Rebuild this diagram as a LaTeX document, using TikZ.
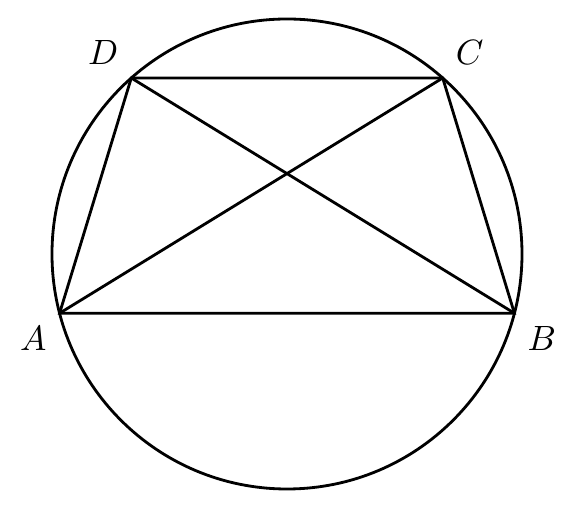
\documentclass[tikz,border=0pt]{standalone}
\begin{document}
\begin{tikzpicture}[thick]
    % Radius of the circumscribed circle
    \def\rad{2.35}
    \useasboundingbox (-2.87,-2.72) rectangle (2.93,2.54);

    % Circle
    \draw (0,0) circle (\rad);

    % Vertices of the trapezoid on the circle
    \coordinate (A) at (194.6:\rad);
    \coordinate (B) at (-14.6:\rad);
    \coordinate (C) at (48.5:\rad);
    \coordinate (D) at (131.5:\rad);

    % Trapezoid and diagonals
    \draw (A) -- (B) -- (C) -- (D) -- cycle;
    \draw (A) -- (C);
    \draw (B) -- (D);

    % Labels for vertices
    \node[below left] at (A) {$A$};
    \node[below right] at (B) {$B$};
    \node[above right] at (C) {$C$};
    \node[above left] at (D) {$D$};
\end{tikzpicture}
\end{document}
